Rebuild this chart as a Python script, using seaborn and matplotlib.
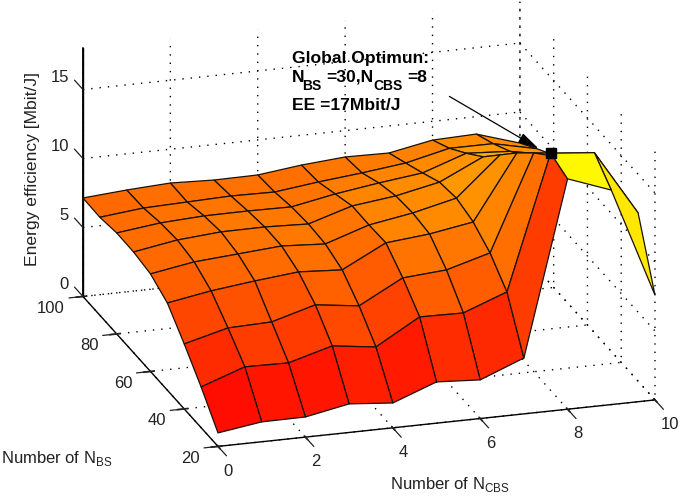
import numpy as np
import matplotlib
matplotlib.use('Agg')
import matplotlib.pyplot as plt
from mpl_toolkits.mplot3d import proj3d
import seaborn as sns

n_cbs = [0, 1, 2, 3, 4, 5, 6, 7, 8, 9, 10]
n_bs = [20, 30, 40, 50, 60, 70, 80, 90, 100]

# energy efficiency, one list per N_BS value
ee_20 = [0.98, 1.44, 1.46, 2.07, 1.80, 2.99, 2.80, 4.05, 16.7, 15.55, 7.6]
ee_30 = [2.95, 4.07, 4.02, 4.91, 4.50, 6.34, 6.29, 7.48, 17.2, 16.9, 12.2]
ee_40 = [4.71, 5.53, 5.63, 6.53, 6.12, 7.81, 8.05, 8.95, 15.86, 15.0, 12.0]
ee_50 = [6.32, 6.86, 7.24, 7.56, 7.37, 8.99, 9.30, 9.83, 14.5, 13.6, 11.9]
ee_60 = [7.07, 7.60, 7.84, 8.08, 7.89, 8.93, 9.46, 10.2, 13.0, 12.4, 10.9]
ee_70 = [7.30, 7.83, 8.08, 8.10, 7.98, 8.95, 9.34, 10.0, 11.5, 11.2, 10.2]
ee_80 = [7.32, 7.71, 7.88, 7.90, 7.86, 8.46, 8.92, 9.31, 10.4, 10.2, 9.6]
ee_90 = [7.10, 7.43, 7.53, 7.63, 7.58, 7.97, 8.29, 8.67, 9.4, 9.4, 8.7]
ee_100 = [7.14, 7.38, 7.55, 7.43, 7.46, 7.84, 8.09, 8.04, 8.64, 8.74, 7.75]

x_ticks = [0, 2, 4, 6, 8, 10]
y_ticks = [20, 40, 60, 80, 100]
z_ticks = [0, 5, 10, 15]

dots = (0, (1, 5))
tick_col = '#222222'

sns.set_theme(style='white', rc={
    'grid.color': 'black',
    'grid.linewidth': 1.0,
    'grid.linestyle': dots,
    'axes.edgecolor': 'black',
    'text.color': tick_col,
    'xtick.color': tick_col,
    'ytick.color': tick_col,
    'mathtext.fontset': 'custom',
    'mathtext.rm': 'Liberation Sans',
    'mathtext.bf': 'Liberation Sans:bold',
})
plt.rcParams['font.family'] = ['Liberation Sans', 'DejaVu Sans']

Z = np.array([ee_20, ee_30, ee_40, ee_50, ee_60, ee_70, ee_80, ee_90, ee_100])
X, Y = np.meshgrid(n_cbs, n_bs)

# red -> yellow, each face takes the colour of its first corner
cmap = sns.color_palette('autumn', as_cmap=True)
face_cols = cmap(Z / Z.max())

fig = plt.figure(figsize=(6.85, 5), dpi=100)
ax = fig.add_axes([20.8 / 685, -72.2 / 500, 678 / 685, 678 / 500], projection='3d')
ax.set_proj_type('ortho')
ax.view_init(elev=20.1, azim=-107.2)
ax.set_box_aspect((457.6, 456.9, 264.5))
ax.computed_zorder = False
ax.patch.set_alpha(0)

ax.plot_surface(X, Y, Z, facecolors=face_cols, rstride=1, cstride=1, shade=False,
                edgecolor='#1a1008', linewidth=0.9, antialiased=True, zorder=3)
ax.plot([8], [30], [17.2], marker='s', color='black', markersize=7, zorder=5)

ax.set_xlim(0, 10, view_margin=0)
ax.set_ylim(20, 100, view_margin=0)
ax.set_zlim(0, 18, view_margin=0)
ax.set_xticks(x_ticks)
ax.set_yticks(y_ticks, labels=[])
ax.set_zticks([])
ax.xaxis.set_tick_params(labelsize=12, pad=3)
plt.setp(ax.get_xticklabels(), ha='left')

for axis in [ax.xaxis, ax.yaxis, ax.zaxis]:
    axis.set_pane_color((1, 1, 1, 0))
    axis.pane.set_edgecolor((1, 1, 1, 0))
    axis.line.set_color('black')
    axis.line.set_linewidth(1.0)


def tick_label(x, y, z, text, dx, dy):
    # label placed in pixels from where the data point lands on the screen
    px, py, _ = proj3d.proj_transform(x, y, z, ax.get_proj())
    ax.annotate(text, xy=(px, py), xytext=(dx, dy), textcoords='offset pixels',
                fontsize=12, ha='right', va='center', color=tick_col)


for v in x_ticks:
    ax.plot([v, v], [20, 15], [0, 0], color=tick_col, lw=0.9, zorder=2)
for v in y_ticks:
    ax.plot([0, -0.32], [v, v], [0, 0], color=tick_col, lw=0.9, zorder=2)
    tick_label(0, v, 0, str(v), -18, -12)

# z axis stands at the back left corner, its ticks point along +y
ax.plot([0, 0], [100, 100], [0, 18], color='black', lw=1.3, zorder=2)
for v in z_ticks:
    ax.plot([0, 10], [100, 100], [v, v], color='black', lw=1.0, ls=dots, zorder=1)
    ax.plot([10, 10], [100, 20], [v, v], color='black', lw=1.0, ls=dots, zorder=1)
    ax.plot([0, 0], [100, 105], [v, v], color=tick_col, lw=0.9, zorder=2)
    tick_label(0, 100, v, str(v), -14, 12)

fig.text(1 / 685, 1 - 459 / 500, 'Number of N$_{\\mathrm{BS}}$', fontsize=12, va='center')
fig.text(390 / 685, 1 - 484 / 500, 'Number of N$_{\\mathrm{CBS}}$', fontsize=12, va='center')
fig.text(33 / 685, 1 - 168.5 / 500, 'Energy efficiency [Mbit/J]', fontsize=12.6,
         rotation=90, ha='center', va='center')

note = dict(fontweight='bold', color='black', va='center')
fig.text(292 / 685, 1 - 58 / 500, 'Global Optimun:', fontsize=12.6, **note)
fig.text(292 / 685, 1 - 77 / 500, 'N', fontsize=12.6, **note)
fig.text(302.5 / 685, 1 - 86 / 500, 'BS', fontsize=10, **note)
fig.text(326 / 685, 1 - 77 / 500, '=30,N', fontsize=12.6, **note)
fig.text(373.5 / 685, 1 - 86 / 500, 'CBS', fontsize=10, **note)
fig.text(407.5 / 685, 1 - 77 / 500, '=8', fontsize=12.6, **note)
fig.text(292 / 685, 1 - 106 / 500, 'EE =17Mbit/J', fontsize=12.6, **note)

ax.annotate('', xy=(541, 500 - 150), xytext=(447, 500 - 95),
            xycoords='figure pixels', textcoords='figure pixels',
            arrowprops=dict(arrowstyle='-|>,head_length=0.8,head_width=0.2', color='black',
                            lw=0.9, mutation_scale=16))

fig.savefig('out.png', dpi=100, facecolor='white')
